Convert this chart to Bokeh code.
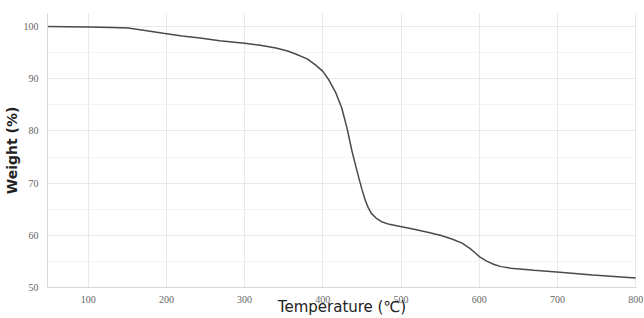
from bokeh.plotting import figure
from bokeh.models import Range1d, FixedTicker
from bokeh.embed import file_html
from bokeh.resources import INLINE

temperature = [48, 100, 130, 151, 175, 196, 220, 243, 268, 300, 320, 340, 355, 366, 380, 391,
               400, 408, 416, 424, 431, 437, 442, 446, 450, 454, 458, 462, 468, 475, 485, 496,
               515, 534, 550, 565, 578, 588, 595, 601, 610, 619, 628, 640, 670, 703, 745, 800]
weight = [100.0, 99.9, 99.8, 99.7, 99.2, 98.7, 98.2, 97.8, 97.3, 96.8, 96.4, 95.9, 95.3, 94.7, 93.8, 92.6,
          91.4, 89.7, 87.5, 84.5, 80.5, 76.3, 73.3, 71.0, 68.8, 66.8, 65.3, 64.2, 63.3, 62.6, 62.1, 61.8,
          61.2, 60.6, 60.0, 59.3, 58.5, 57.5, 56.6, 55.8, 55.0, 54.4, 54.0, 53.7, 53.3, 52.9, 52.4, 51.8]
x_ticks = [100, 200, 300, 400, 500, 600, 700, 800]
y_ticks = [50, 60, 70, 80, 90, 100]

p = figure(width=644, height=318, output_backend="svg", toolbar_location=None,
           x_range=Range1d(48, 801), y_range=Range1d(50, 102.5),
           min_border_left=6, min_border_right=8, min_border_top=13, min_border_bottom=10)
p.outline_line_color = None
p.background_fill_color = "white"

p.line(temperature, weight, line_color="#4a4a4a", line_width=1.5)

p.xaxis.ticker = FixedTicker(ticks=x_ticks)
p.yaxis.ticker = FixedTicker(ticks=y_ticks, minor_ticks=[55, 65, 75, 85, 95])
for ax in (p.xaxis[0], p.yaxis[0]):
    ax.axis_line_color = "#d8d8d8"
    ax.major_tick_line_color = None
    ax.minor_tick_line_color = None
    ax.major_label_text_font = "Liberation Sans Narrow"
    ax.major_label_text_font_size = "10px"
    ax.major_label_text_color = "#666666"
    ax.axis_label_text_font = "DejaVu Sans"
    ax.axis_label_text_color = "#222222"
    ax.axis_label_text_font_size = "15px"

p.yaxis.axis_label = "Weight (%)"
p.yaxis.axis_label_text_font_style = "bold"
p.yaxis.axis_label_text_font_size = "14px"
p.yaxis.major_label_standoff = 3
p.yaxis.axis_label_standoff = 1
p.xaxis.axis_label = "Temperature (℃)"
p.xaxis.axis_label_text_font_style = "normal"
p.xaxis.major_label_standoff = 2
p.xaxis.axis_label_standoff = -8

p.xgrid.grid_line_color = "#e8e8e8"
p.ygrid.grid_line_color = "#e8e8e8"
p.ygrid.minor_grid_line_color = "#f3f3f3"

open("out.html", "w").write(file_html(p, INLINE))
